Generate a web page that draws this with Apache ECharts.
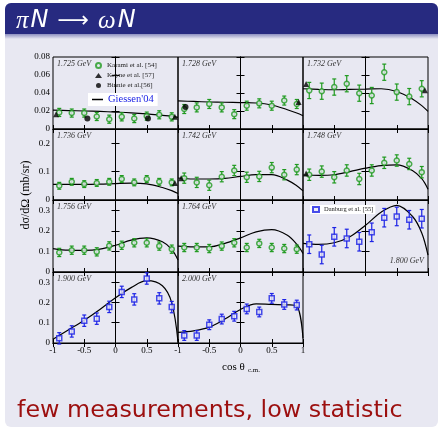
<!DOCTYPE html>
<html>
<head>
<meta charset="utf-8">
<script src="https://cdn.jsdelivr.net/npm/echarts@6/dist/echarts.min.js"></script>
<style>
  html, body { margin: 0; padding: 0; background: #fff; }
  #chart { width: 440px; height: 429px; }
</style>
</head>
<body>
<div id="chart"></div>
<script>
// angular bins of the measured points and of the model curve
const cosBins = [-0.9, -0.7, -0.5, -0.3, -0.1, 0.1, 0.3, 0.5, 0.7, 0.9];
const curveCos = [-1, -0.75, -0.5, -0.25, 0, 0.25, 0.5, 0.75, 0.9, 1];

const energies = ['1.725 GeV', '1.728 GeV', '1.732 GeV', '1.736 GeV', '1.742 GeV', '1.748 GeV',
                  '1.756 GeV', '1.764 GeV', '1.800 GeV', '1.900 GeV', '2.000 GeV'];

// Karami et al. [54]
const karami1725 = [0.0184, 0.0177, 0.0177, 0.0139, 0.0109, 0.0135, 0.0116, 0.0143, 0.0158, 0.0135];
const karami1728 = [0.0222, 0.0240, 0.0278, 0.0240, 0.0165, 0.0259, 0.0285, 0.0259, 0.0316, 0.0278];
const karami1732 = [0.0428, 0.0420, 0.0466, 0.0503, 0.0398, 0.0372, 0.0631, 0.0410, 0.0360, 0.0447];
const karami1736 = [0.050, 0.064, 0.056, 0.060, 0.064, 0.074, 0.062, 0.074, 0.064, 0.062];
const karami1742 = [0.077, 0.062, 0.052, 0.082, 0.104, 0.080, 0.083, 0.114, 0.089, 0.107];
const karami1748 = [0.089, 0.100, 0.080, 0.104, 0.074, 0.104, 0.131, 0.139, 0.127, 0.098];
const karami1756 = [0.095, 0.106, 0.106, 0.098, 0.127, 0.130, 0.142, 0.142, 0.126, 0.111];
const karami1764 = [0.119, 0.119, 0.114, 0.126, 0.142, 0.119, 0.139, 0.119, 0.114, 0.111];
const karamiErr = [0.0045, 0.005, 0.009, 0.012, 0.018, 0.02, 0.02, 0.02];

// Danburg et al. [55]
const danburg1800 = [0.135, 0.085, 0.171, 0.163, 0.147, 0.193, 0.264, 0.270, 0.254, 0.259];
const danburg1900 = [0.023, 0.057, 0.110, 0.120, 0.178, 0.252, 0.215, 0.318, 0.220, 0.177];
const danburg2000 = [0.037, 0.037, 0.090, 0.118, 0.132, 0.168, 0.153, 0.220, 0.190, 0.187];
const danburgErr = [0.045, 0.028, 0.024];

// Keyne et al. [57] and Binnie et al. [56]  ([cos, value])
const keyne1725 = [[-0.95, 0.0165], [0.95, 0.0135]];
const keyne1728 = [[0.93, 0.030]];
const keyne1732 = [[-0.95, 0.050], [0.95, 0.043]];
const keyne1736 = [[0.95, 0.060]];
const keyne1742 = [[-0.95, 0.077]];
const keyne1748 = [[-0.95, 0.093]];
const binnie1725 = [[-0.45, 0.0118], [0.52, 0.0118]];
const binnie1728 = [[-0.88, 0.0244]];

// Giessen'04 model
const giessen1725 = [0.0210, 0.0205, 0.0200, 0.0195, 0.0188, 0.0180, 0.0168, 0.0152, 0.0142, 0.0130];
const giessen1728 = [0.0312, 0.0306, 0.0300, 0.0297, 0.0293, 0.0289, 0.0267, 0.0214, 0.0178, 0.0148];
const giessen1732 = [0.0447, 0.0440, 0.0436, 0.0440, 0.0443, 0.0447, 0.0417, 0.0334, 0.0260, 0.0195];
const giessen1736 = [0.055, 0.055, 0.055, 0.056, 0.058, 0.0595, 0.057, 0.044, 0.033, 0.0226];
const giessen1742 = [0.0774, 0.074, 0.074, 0.076, 0.083, 0.089, 0.089, 0.070, 0.050, 0.032];
const giessen1748 = [0.088, 0.087, 0.089, 0.100, 0.112, 0.121, 0.124, 0.104, 0.075, 0.038];
const giessen1756 = [0.114, 0.106, 0.105, 0.111, 0.130, 0.155, 0.166, 0.147, 0.110, 0.058];
const giessen1764 = [0.126, 0.122, 0.122, 0.139, 0.166, 0.195, 0.206, 0.179, 0.135, 0.090];
const giessen1800 = [0.139, 0.134, 0.142, 0.171, 0.227, 0.291, 0.324, 0.271, 0.190, 0.082];
const giessen1900 = [0.018, 0.065, 0.112, 0.165, 0.223, 0.273, 0.307, 0.282, 0.198, 0.007];
const giessen2000 = [0.052, 0.060, 0.078, 0.118, 0.165, 0.193, 0.190, 0.188, 0.182, 0.023];

// tick labels
const xTicks = [-1, -0.5, 0, 0.5, 1];
const xLabelsLeft = [-1, -0.5, 0, 0.5];
const xLabelsRight = [-1, -0.5, 0, 0.5, 1];
const yTicksRow1 = [0, 0.02, 0.04, 0.06, 0.08];
const yTicksRow2 = [0, 0.1, 0.2];
const yTicksRow3 = [0, 0.1, 0.2, 0.3];
const yTicksRow4 = [0, 0.1, 0.2, 0.3];
const yMaxRows = [0.08, 0.25, 0.35, 0.35];

const GREEN = '#1f9a1f', BLUE = '#1c22e6', BG = '#e8e8f2';

const pointSets = [karami1725, karami1728, karami1732, karami1736, karami1742, karami1748,
                   karami1756, karami1764, danburg1800, danburg1900, danburg2000];
const curveSets = [giessen1725, giessen1728, giessen1732, giessen1736, giessen1742, giessen1748,
                   giessen1756, giessen1764, giessen1800, giessen1900, giessen2000];
const keyneSets = [keyne1725, keyne1728, keyne1732, keyne1736, keyne1742, keyne1748];
const binnieSets = [binnie1725, binnie1728];
const yTickRows = [yTicksRow1, yTicksRow2, yTicksRow3, yTicksRow4];

// panel layout (px)
const colLeft = [53, 178, 303];
const rowTop = [57, 129, 200, 272];
const rowBottom = [129, 200, 272, 343];
const panelW = 125;

const serif = 'Liberation Serif';

function renderErr(params, api) {
  const x = api.value(0), y = api.value(1), e = api.value(2);
  const hi = api.coord([x, y + e]);
  const lo = api.coord([x, y - e]);
  const st = { stroke: api.visual('color'), lineWidth: 1.2 };
  return {
    type: 'group',
    children: [
      { type: 'line', shape: { x1: hi[0], y1: hi[1], x2: lo[0], y2: lo[1] }, style: st },
      { type: 'line', shape: { x1: hi[0] - 2, y1: hi[1], x2: hi[0] + 2, y2: hi[1] }, style: st },
      { type: 'line', shape: { x1: lo[0] - 2, y1: lo[1], x2: lo[0] + 2, y2: lo[1] }, style: st }
    ]
  };
}

const grid = [], xAxis = [], yAxis = [], series = [], graphic = [];

for (let i = 0; i < 11; i++) {
  const r = Math.floor(i / 3), c = i % 3;
  grid.push({
    left: colLeft[c], top: rowTop[r], width: panelW, height: rowBottom[r] - rowTop[r],
    show: true, borderColor: '#000', borderWidth: 1, backgroundColor: 'transparent'
  });
  const showX = r === 3;
  const xLabels = c === 0 ? xLabelsLeft : xLabelsRight;
  const tickStyle = { show: true, inside: true, length: 4, lineStyle: { color: '#000', width: 1 } };
  xAxis.push({
    type: 'value', gridIndex: i, min: -1, max: 1, position: 'bottom',
    axisLine: { show: true, lineStyle: { color: '#000', width: 1 } },
    axisTick: Object.assign({ customValues: xTicks }, tickStyle),
    axisLabel: { show: showX, customValues: xLabels, margin: 3, fontFamily: serif, fontSize: 9, color: '#000' },
    splitLine: { show: false }
  });
  xAxis.push({
    type: 'value', gridIndex: i, min: -1, max: 1, position: 'top',
    axisLine: { show: true, lineStyle: { color: '#000', width: 1 } },
    axisTick: Object.assign({ customValues: xTicks }, tickStyle),
    axisLabel: { show: false }, splitLine: { show: false }
  });
  const yt = yTickRows[r];
  yAxis.push({
    type: 'value', gridIndex: i, min: 0, max: yMaxRows[r], position: 'left',
    axisLine: { show: true, lineStyle: { color: '#000', width: 1 } },
    axisTick: Object.assign({ customValues: yt }, tickStyle),
    axisLabel: { show: c === 0, customValues: yt, margin: 3, fontFamily: serif, fontSize: 9, color: '#000' },
    splitLine: { show: false }
  });
  yAxis.push({
    type: 'value', gridIndex: i, min: 0, max: yMaxRows[r], position: 'right',
    axisLine: { show: true, lineStyle: { color: '#000', width: 1 } },
    axisTick: Object.assign({ customValues: yt }, tickStyle),
    axisLabel: { show: false }, splitLine: { show: false }
  });

  const xi = 2 * i, yi = 2 * i;
  const isBlue = i >= 8;
  const color = isBlue ? BLUE : GREEN;
  const err = isBlue ? danburgErr[i - 8] : karamiErr[i];
  const pts = pointSets[i];

  series.push({
    type: 'line', name: "Giessen'04", xAxisIndex: xi, yAxisIndex: yi,
    data: curveCos.map((x, k) => [x, curveSets[i][k]]),
    smooth: 0.35, symbol: 'none', showSymbol: false, lineStyle: { color: '#000', width: 1.2 },
    itemStyle: { color: '#000' }, z: 3, silent: true
  });
  series.push({
    type: 'custom', name: 'err' + i, xAxisIndex: xi, yAxisIndex: yi,
    data: cosBins.map((x, k) => [x, pts[k], err]),
    renderItem: renderErr, itemStyle: { color: color }, z: 4, silent: true
  });
  series.push({
    type: 'scatter', name: isBlue ? 'Danburg et al. [55]' : 'Karami et al. [54]',
    xAxisIndex: xi, yAxisIndex: yi,
    data: cosBins.map((x, k) => [x, pts[k]]),
    symbol: isBlue ? 'rect' : 'circle', symbolSize: 5,
    itemStyle: { color: BG, borderColor: color, borderWidth: 1.5 }, z: 5, silent: true
  });
  if (keyneSets[i]) {
    series.push({
      type: 'scatter', name: 'Keyne et al. [57]', xAxisIndex: xi, yAxisIndex: yi,
      data: keyneSets[i], symbol: 'triangle', symbolSize: 6,
      itemStyle: { color: '#000' }, z: 6, silent: true
    });
  }
  if (binnieSets[i]) {
    series.push({
      type: 'scatter', name: 'Binnie et al.[56]', xAxisIndex: xi, yAxisIndex: yi,
      data: binnieSets[i], symbol: 'circle', symbolSize: 6,
      itemStyle: { color: '#000' }, z: 6, silent: true
    });
  }

  // energy label
  const bottomRight = i === 8;
  graphic.push({
    type: 'text', z: 10,
    x: bottomRight ? colLeft[c] + panelW - 4 : colLeft[c] + 4,
    y: bottomRight ? rowBottom[r] - 11 : rowTop[r] + 7,
    style: {
      text: energies[i], fill: '#333', font: 'italic 8px "Liberation Serif"',
      textAlign: bottomRight ? 'right' : 'left', textVerticalAlign: 'middle'
    }
  });
}

// slide frame
graphic.unshift(
  { type: 'rect', z: -10, shape: { x: 5, y: 3, width: 433, height: 424, r: 6 }, style: { fill: BG } },
  { type: 'rect', z: -9, shape: { x: 5, y: 3, width: 433, height: 31, r: [6, 6, 0, 0] }, style: { fill: '#272a80' } },
  {
    type: 'rect', z: -9, shape: { x: 5, y: 34, width: 433, height: 5 },
    style: {
      fill: { type: 'linear', x: 0, y: 0, x2: 0, y2: 1,
        colorStops: [{ offset: 0, color: '#8d8fc0' }, { offset: 1, color: BG }] }
    }
  }
);
graphic.push(
  {
    type: 'text', x: 16, y: 21, z: 10,
    style: {
      text: '{g|π}{n|N}{a|⟶}{g|ω}{n|N}', fill: '#fff', textVerticalAlign: 'middle',
      rich: {
        g: { fontFamily: serif, fontStyle: 'italic', fontSize: 25, fill: '#fff', padding: [0, 2, 0, 0] },
        n: { fontFamily: 'DejaVu Sans', fontStyle: 'italic', fontSize: 24, fill: '#fff' },
        a: { fontFamily: 'DejaVu Sans', fontSize: 22, fill: '#fff', padding: [0, 9, 0, 9] }
      }
    }
  },
  {
    type: 'text', x: 26, y: 195, rotation: Math.PI / 2, z: 10,
    style: {
      text: 'dσ/dΩ (mb/sr)', font: '12px "Liberation Serif"', fill: '#000',
      textAlign: 'center', textVerticalAlign: 'middle'
    }
  },
  {
    type: 'text', x: 222, y: 367, z: 10,
    style: {
      text: '{a|cos θ} {s|c.m.}', textVerticalAlign: 'middle',
      rich: {
        a: { fontFamily: serif, fontSize: 11, fill: '#000' },
        s: { fontFamily: serif, fontSize: 7, fill: '#000', padding: [6, 0, 0, 0] }
      }
    }
  },
  {
    type: 'text', x: 17, y: 411, z: 10,
    style: {
      text: 'few measurements, low statistic', font: '23.8px "DejaVu Sans"',
      fill: '#9c0f0f', textVerticalAlign: 'middle'
    }
  }
);

const option = {
  backgroundColor: '#fff',
  animation: false,
  grid: grid,
  xAxis: xAxis,
  yAxis: yAxis,
  legend: [
    {
      data: ['Karami et al. [54]', 'Keyne et al. [57]', 'Binnie et al.[56]'],
      orient: 'vertical', left: 95, top: 62, padding: 0,
      itemWidth: 7, itemHeight: 5, itemGap: 3, selectedMode: false,
      textStyle: { fontFamily: serif, fontSize: 7, color: '#222' }
    },
    {
      data: [{ name: "Giessen'04", icon: 'rect', itemStyle: { color: '#000' } }],
      left: 88, top: 93, padding: [1, 4, 1, 4],
      backgroundColor: '#fff', itemWidth: 11, itemHeight: 1.5, selectedMode: false,
      textStyle: { fontFamily: serif, fontSize: 10.5, color: BLUE }
    },
    {
      data: ['Danburg et al. [55]'], left: 310, top: 205, padding: [1, 2, 1, 2],
      backgroundColor: '#fff', itemWidth: 6, itemHeight: 5, itemGap: 2, selectedMode: false,
      textStyle: { fontFamily: serif, fontSize: 6.5, color: '#222' }
    }
  ],
  graphic: graphic,
  series: series
};

const chart = echarts.init(document.getElementById('chart'));
chart.setOption(option);
</script>
</body>
</html>
